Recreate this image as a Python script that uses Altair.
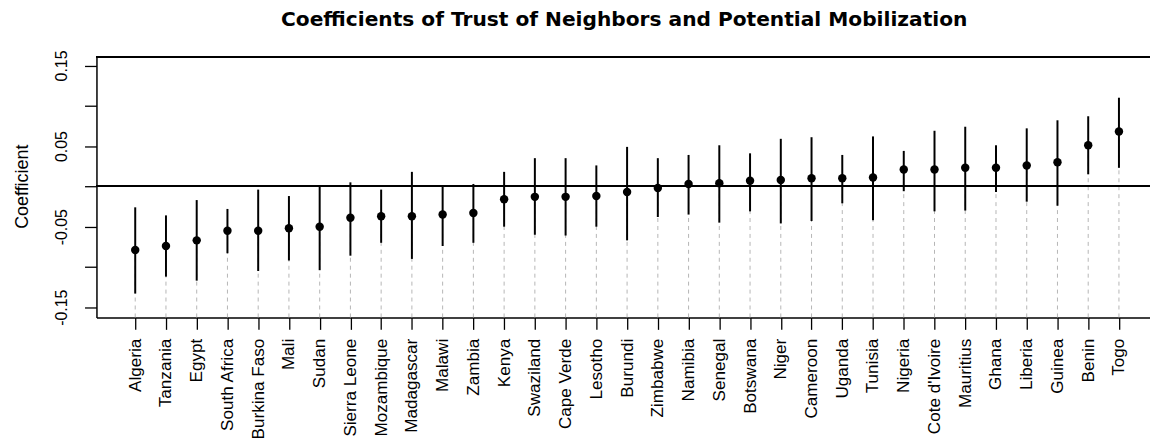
import json
import altair as alt
import pandas as pd

countries = ["Algeria", "Tanzania", "Egypt", "South Africa", "Burkina Faso", "Mali", "Sudan",
             "Sierra Leone", "Mozambique", "Madagascar", "Malawi", "Zambia", "Kenya", "Swaziland",
             "Cape Verde", "Lesotho", "Burundi", "Zimbabwe", "Namibia", "Senegal", "Botswana",
             "Niger", "Cameroon", "Uganda", "Tunisia", "Nigeria", "Cote d'Ivoire", "Mauritius",
             "Ghana", "Liberia", "Guinea", "Benin", "Togo"]
coef = [-0.079, -0.074, -0.067, -0.055, -0.055, -0.052, -0.050, -0.039, -0.037, -0.037, -0.035,
        -0.033, -0.016, -0.013, -0.013, -0.012, -0.007, -0.002, 0.003, 0.004, 0.007, 0.008,
        0.010, 0.010, 0.011, 0.021, 0.021, 0.023, 0.023, 0.026, 0.030, 0.051, 0.068]
upper = [-0.026, -0.036, -0.017, -0.028, -0.004, -0.012, 0.001, 0.005, -0.004, 0.018, 0.001,
         0.003, 0.018, 0.035, 0.035, 0.026, 0.049, 0.035, 0.039, 0.051, 0.041, 0.059,
         0.061, 0.039, 0.062, 0.044, 0.069, 0.074, 0.051, 0.072, 0.082, 0.087, 0.110]
lower = [-0.133, -0.112, -0.117, -0.083, -0.105, -0.092, -0.104, -0.086, -0.070, -0.090, -0.074,
         -0.070, -0.050, -0.060, -0.061, -0.050, -0.067, -0.038, -0.035, -0.045, -0.031, -0.046,
         -0.043, -0.021, -0.042, -0.006, -0.031, -0.030, -0.007, -0.019, -0.024, 0.015, 0.023]
y_ticks = [-0.15, -0.10, -0.05, 0.0, 0.05, 0.10, 0.15]
title_text = "Coefficients of Trust of Neighbors and Potential Mobilization"

YMIN, YMAX = -0.1626, 0.1605
XMIN, XMAX = -0.261, 34.01
W, H = 1060, 262

df = pd.DataFrame({
    "idx": list(range(1, len(countries) + 1)),
    "country": countries,
    "coef": coef,
    "lower": lower,
    "upper": upper,
    "base": [YMIN] * len(countries),
})

xs = alt.Scale(domain=[XMIN, XMAX], nice=False, zero=False)
ys = alt.Scale(domain=[YMIN, YMAX], nice=False, zero=False)

x_label_expr = json.dumps(countries) + "[round(datum.value) - 1]"
y_label_expr = ("abs(round(datum.value*100)) % 10 == 5 ? "
                "(datum.value < 0 ? '-' : '') + format(abs(datum.value), '.2f') : ''")

xaxis = alt.Axis(values=list(range(1, len(countries) + 1)), labelExpr=x_label_expr,
                 labelAngle=270, labelAlign="right", labelBaseline="middle",
                 labelFont="Liberation Sans", labelFontSize=17.2, labelColor="black",
                 labelPadding=9, labelOverlap=False, labelFlush=False,
                 tickColor="black", tickSize=12, tickWidth=1.3,
                 domainColor="black", domainWidth=1.5, grid=False, title=None)
yaxis = alt.Axis(values=y_ticks, labelExpr=y_label_expr,
                 labelAngle=270, labelAlign="center", labelBaseline="alphabetic",
                 labelFont="Liberation Sans", labelFontSize=16, labelColor="black",
                 labelPadding=18, labelOverlap=False, labelFlush=False,
                 tickColor="black", tickSize=12, tickWidth=1.3,
                 domainColor="black", domainWidth=1.5, grid=False,
                 title="Coefficient", titleAngle=270, titleX=-69, titleY=130,
                 titleAlign="center", titleBaseline="alphabetic",
                 titleFont="Liberation Sans", titleFontSize=18, titleFontWeight="normal",
                 titleColor="black")

base = alt.Chart(df)

dashed = base.mark_rule(color="#b5b5b5", strokeDash=[4, 4], strokeWidth=1).encode(
    x=alt.X("idx:Q", scale=xs, axis=xaxis),
    y=alt.Y("base:Q", scale=ys, axis=yaxis),
    y2="coef:Q",
)
zero = alt.Chart(df).mark_rule(color="black", strokeWidth=1.5).encode(
    y=alt.Y(datum=0.0, scale=ys, axis=yaxis))
top = alt.Chart(df).mark_rule(color="black", strokeWidth=1.5).encode(
    y=alt.Y(datum=YMAX, scale=ys, axis=yaxis))
ci = base.mark_rule(color="black", strokeWidth=2).encode(
    x=alt.X("idx:Q", scale=xs, axis=xaxis),
    y=alt.Y("lower:Q", scale=ys, axis=yaxis),
    y2="upper:Q",
)
pts = base.mark_circle(color="black", size=72, opacity=1).encode(
    x=alt.X("idx:Q", scale=xs, axis=xaxis),
    y=alt.Y("coef:Q", scale=ys, axis=yaxis),
)
title = alt.Chart(pd.DataFrame({"t": [title_text]})).mark_text(
    font="DejaVu Sans", fontSize=20.3, fontWeight="bold", color="black",
    align="center", baseline="alphabetic",
).encode(x=alt.value(W / 2 + 1), y=alt.value(-31.5), text="t:N")

chart = alt.layer(dashed, zero, top, ci, pts, title).properties(
    width=W,
    height=H,
    autosize=alt.AutoSizeParams(type="none"),
    padding={"left": 89, "top": 48, "right": 0, "bottom": 120},
    background="white",
).configure_view(stroke=None)

chart.save("out.html", embed_options={"renderer": "svg", "actions": False})
